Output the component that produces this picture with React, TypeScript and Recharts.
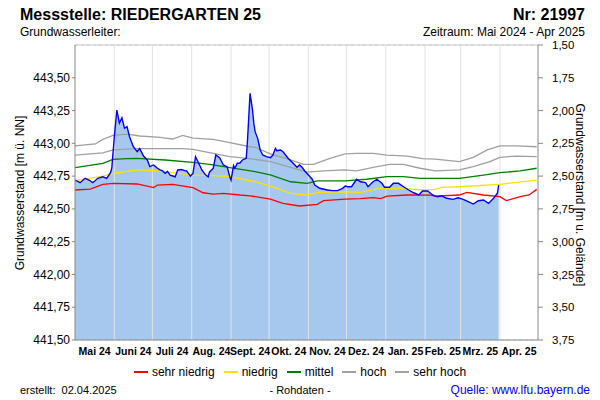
import React from 'react'
import { ComposedChart, Area, Line, XAxis, YAxis, CartesianGrid, ReferenceLine } from 'recharts'

// day index 0 = 01.05.2024
const monthStarts = [0, 31, 61, 92, 123, 153, 184, 214, 245, 276, 304, 335, 365]
const monthLabels = ['Mai 24', 'Juni 24', 'Juli 24', 'Aug. 24', 'Sept. 24', 'Okt. 24', 'Nov. 24', 'Dez. 24', 'Jan. 25', 'Feb. 25', 'Mrz. 25', 'Apr. 25']

const leftTicks = [441.5, 441.75, 442, 442.25, 442.5, 442.75, 443, 443.25, 443.5]
const rightTicks = [1.5, 1.75, 2, 2.25, 2.5, 2.75, 3, 3.25, 3.5, 3.75]

// Rohdaten [Tag, m ü. NN]
const gemessen: [number, number][] = [
  [0, 442.72], [4, 442.7], [8, 442.733], [11, 442.72], [14, 442.7], [18, 442.733], [22, 442.745], [25, 442.733],
  [28, 442.776], [29, 442.81], [31, 443.05], [33, 443.254], [35, 443.155], [37, 443.195], [39, 443.115], [41, 443.127],
  [43, 443.05], [46, 442.974], [49, 442.936], [51, 442.96], [54, 442.903], [57, 442.873], [59, 442.822], [62, 442.835],
  [65, 442.81], [67, 442.797], [69, 442.79], [71, 442.771], [73, 442.786], [75, 442.758], [79, 442.745], [81, 442.797],
  [84, 442.8], [87, 442.79], [88, 442.79], [91, 442.75], [93, 442.771], [95, 442.898], [97, 442.86], [100, 442.797],
  [103, 442.758], [105, 442.745], [106, 442.78], [109, 442.81], [111, 442.911], [114, 442.89], [117, 442.835],
  [120, 442.82], [122, 442.745], [123, 442.72], [125, 442.83], [126, 442.81], [128, 442.848], [130, 442.85],
  [132, 442.873], [135, 442.886], [136, 443.025], [137, 443.203], [138, 443.382], [140, 443.25], [141, 443.15],
  [142, 443.089], [144, 443.038], [146, 442.949], [148, 442.911], [151, 442.898], [154, 442.89], [156, 442.911],
  [158, 442.962], [159, 442.944], [162, 442.949], [164, 442.936], [168, 442.886], [172, 442.848], [175, 442.817],
  [177, 442.835], [179, 442.817], [181, 442.791], [184, 442.758], [187, 442.726], [189, 442.682], [193, 442.657],
  [199, 442.644], [203, 442.639], [207, 442.639], [211, 442.657], [213, 442.674], [215, 442.669], [218, 442.669],
  [222, 442.726], [225, 442.707], [229, 442.7], [231, 442.669], [235, 442.707], [238, 442.726], [242, 442.695],
  [244, 442.665], [248, 442.665], [251, 442.695], [255, 442.695], [259, 442.669], [263, 442.644], [267, 442.623],
  [271, 442.606], [274, 442.636], [278, 442.636], [282, 442.606], [284, 442.598], [286, 442.593], [289, 442.6],
  [293, 442.581], [298, 442.573], [302, 442.585], [306, 442.573], [310, 442.555], [314, 442.537], [318, 442.562],
  [322, 442.568], [326, 442.542], [330, 442.581], [333, 442.619], [334, 442.682],
]

const sehrHoch: [number, number][] = [
  [0, 442.98], [16, 442.995], [22, 443.03], [30, 443.06], [41, 443.07], [51, 443.056], [67, 443.045], [71, 443.04],
  [77, 443.033], [85, 443.06], [93, 443.04], [109, 443.03], [122, 443.005], [138, 442.974], [142, 442.97],
  [154, 442.92], [170, 442.873], [180, 442.84], [188, 442.84], [201, 442.886], [213, 442.92], [222, 442.924],
  [235, 442.924], [246, 442.91], [262, 442.903], [274, 442.883], [284, 442.88], [303, 442.86], [314, 442.893],
  [325, 442.95], [335, 442.98], [348, 442.98], [364, 442.974],
]

const hoch: [number, number][] = [
  [0, 442.91], [22, 442.928], [30, 442.95], [49, 442.96], [71, 442.96], [85, 442.96], [93, 442.954], [109, 442.924],
  [122, 442.898], [136, 442.886], [154, 442.86], [170, 442.817], [183, 442.78], [196, 442.79], [213, 442.797],
  [222, 442.79], [235, 442.817], [248, 442.84], [259, 442.84], [272, 442.81], [284, 442.79], [303, 442.797],
  [314, 442.822], [327, 442.86], [335, 442.893], [348, 442.903], [364, 442.898],
]

const mittel: [number, number][] = [
  [0, 442.814], [22, 442.847], [30, 442.878], [41, 442.883], [49, 442.886], [71, 442.873], [93, 442.855],
  [109, 442.835], [122, 442.814], [142, 442.784], [154, 442.76], [170, 442.707], [183, 442.695], [191, 442.713],
  [213, 442.713], [230, 442.726], [246, 442.746], [259, 442.746], [272, 442.733], [303, 442.733], [322, 442.758],
  [335, 442.776], [351, 442.79], [364, 442.81],
]

const niedrig: [number, number][] = [
  [0, 442.715], [22, 442.75], [30, 442.77], [49, 442.797], [67, 442.79], [71, 442.784], [93, 442.758],
  [109, 442.753], [122, 442.746], [142, 442.707], [154, 442.674], [170, 442.619], [183, 442.606], [191, 442.626],
  [213, 442.63], [225, 442.626], [240, 442.657], [259, 442.657], [274, 442.644], [284, 442.649], [289, 442.664],
  [303, 442.669], [335, 442.687], [364, 442.72],
]

const sehrNiedrig: [number, number][] = [
  [0, 442.644], [12, 442.65], [22, 442.687], [30, 442.695], [49, 442.69], [62, 442.662], [65, 442.682],
  [77, 442.687], [93, 442.662], [101, 442.623], [109, 442.613], [117, 442.619], [130, 442.606], [138, 442.6],
  [154, 442.575], [164, 442.542], [177, 442.522], [191, 442.535], [196, 442.563], [213, 442.575], [225, 442.578],
  [235, 442.586], [241, 442.578], [246, 442.598], [262, 442.606], [280, 442.605], [284, 442.598], [303, 442.606],
  [309, 442.626], [322, 442.606], [335, 442.593], [340, 442.563], [351, 442.593], [358, 442.606], [364, 442.649],
]

const toRows = (pts: [number, number][]) => pts.map(([d, v]) => ({ d, v }))

const levels = [
  { name: 'sehr niedrig', color: '#ff0000', data: sehrNiedrig },
  { name: 'niedrig', color: '#ffe100', data: niedrig },
  { name: 'mittel', color: '#008000', data: mittel },
  { name: 'hoch', color: '#a0a0a0', data: hoch },
  { name: 'sehr hoch', color: '#a0a0a0', data: sehrHoch },
]

const font = '"Liberation Sans", Arial, sans-serif'
const comma = (v: number) => v.toFixed(2).replace('.', ',')
const midTicks = monthLabels.map((_, i) => (monthStarts[i] + monthStarts[i + 1]) / 2)

export default function App() {
  return (
    <div style={{ position: 'absolute', left: 0, top: 0, width: 600, height: 400, background: '#fff', fontFamily: font, color: '#000' }}>
      <div style={{ position: 'absolute', left: 20, top: 6, fontSize: 16, fontWeight: 'bold' }}>Messstelle: RIEDERGARTEN 25</div>
      <div style={{ position: 'absolute', right: 15, top: 6, fontSize: 16, fontWeight: 'bold' }}>Nr: 21997</div>
      <div style={{ position: 'absolute', left: 20, top: 25, fontSize: 12 }}>Grundwasserleiter:</div>
      <div style={{ position: 'absolute', right: 15, top: 25, fontSize: 12 }}>Zeitraum: Mai 2024 - Apr 2025</div>

      <ComposedChart width={600} height={400} margin={{ top: 45, right: 22, bottom: 35, left: 20 }}>
        <CartesianGrid horizontal vertical={false} stroke="#d6d6d6" strokeDasharray="3 3" />
        <XAxis
          dataKey="d"
          type="number"
          domain={[0, 365]}
          ticks={midTicks}
          interval={0}
          tickFormatter={(_v, i) => monthLabels[i]}
          tickLine={false}
          stroke="#888"
          height={25}
          tick={{ fill: '#000', fontSize: 10.5, fontWeight: 'bold', fontFamily: font }}
          allowDataOverflow
        />
        <YAxis
          yAxisId="l"
          dataKey="v"
          domain={[441.5, 443.75]}
          ticks={leftTicks}
          tickFormatter={comma}
          width={55}
          stroke="#888"
          tickSize={3}
          tickMargin={2}
          tick={{ fill: '#000', fontSize: 12, fontFamily: font }}
          allowDataOverflow
        />
        <YAxis
          yAxisId="r"
          orientation="right"
          domain={[1.5, 3.75]}
          reversed
          ticks={rightTicks}
          tickFormatter={comma}
          width={40}
          stroke="#888"
          tickSize={5}
          tickMargin={9}
          tick={{ fill: '#000', fontSize: 11.5, fontFamily: font }}
          allowDataOverflow
        />
        <ReferenceLine yAxisId="l" y={443.75} stroke="#c4c4c4" />
        <Area
          yAxisId="l"
          data={toRows(gemessen)}
          dataKey="v"
          type="linear"
          stroke="none"
          fill="#a6c8ef"
          fillOpacity={1}
          isAnimationActive={false}
        />
        {monthStarts.slice(1, -1).map((m) => (
          <ReferenceLine key={m} yAxisId="l" x={m} stroke="#e2e2e2" />
        ))}
        {levels.map((s) => (
          <Line
            key={s.name}
            yAxisId="l"
            data={toRows(s.data)}
            dataKey="v"
            name={s.name}
            type="linear"
            stroke={s.color}
            strokeWidth={1.3}
            dot={false}
            isAnimationActive={false}
          />
        ))}
        <Line
          yAxisId="l"
          data={toRows(gemessen)}
          dataKey="v"
          type="linear"
          stroke="#0000ff"
          strokeWidth={1.4}
          dot={false}
          isAnimationActive={false}
        />
      </ComposedChart>

      <div style={{ position: 'absolute', left: 20, top: 193, fontSize: 12, transform: 'translate(-50%, -50%) rotate(-90deg)', whiteSpace: 'nowrap' }}>
        Grundwasserstand [m ü. NN]
      </div>
      <div style={{ position: 'absolute', left: 580, top: 195, fontSize: 12, transform: 'translate(-50%, -50%) rotate(90deg)', whiteSpace: 'nowrap' }}>
        Grundwasserstand [m u. Gelände]
      </div>

      <div style={{ position: 'absolute', left: 0, top: 365, width: 600, display: 'flex', justifyContent: 'center', fontSize: 12 }}>
        {levels.map((s, i) => (
          <div key={s.name} style={{ display: 'flex', alignItems: 'center', marginLeft: i ? 9 : 0 }}>
            <span style={{ display: 'inline-block', width: 14, height: 1.5, background: s.color, marginRight: 4 }} />
            <span>{s.name}</span>
          </div>
        ))}
      </div>

      <div style={{ position: 'absolute', left: 20, top: 384, fontSize: 11 }}>erstellt:&nbsp;&nbsp;02.04.2025</div>
      <div style={{ position: 'absolute', left: 0, width: 600, top: 384, fontSize: 11, textAlign: 'center' }}>- Rohdaten -</div>
      <div style={{ position: 'absolute', right: 10, top: 383, fontSize: 12, color: '#0000ff' }}>Quelle: www.lfu.bayern.de</div>
    </div>
  )
}
